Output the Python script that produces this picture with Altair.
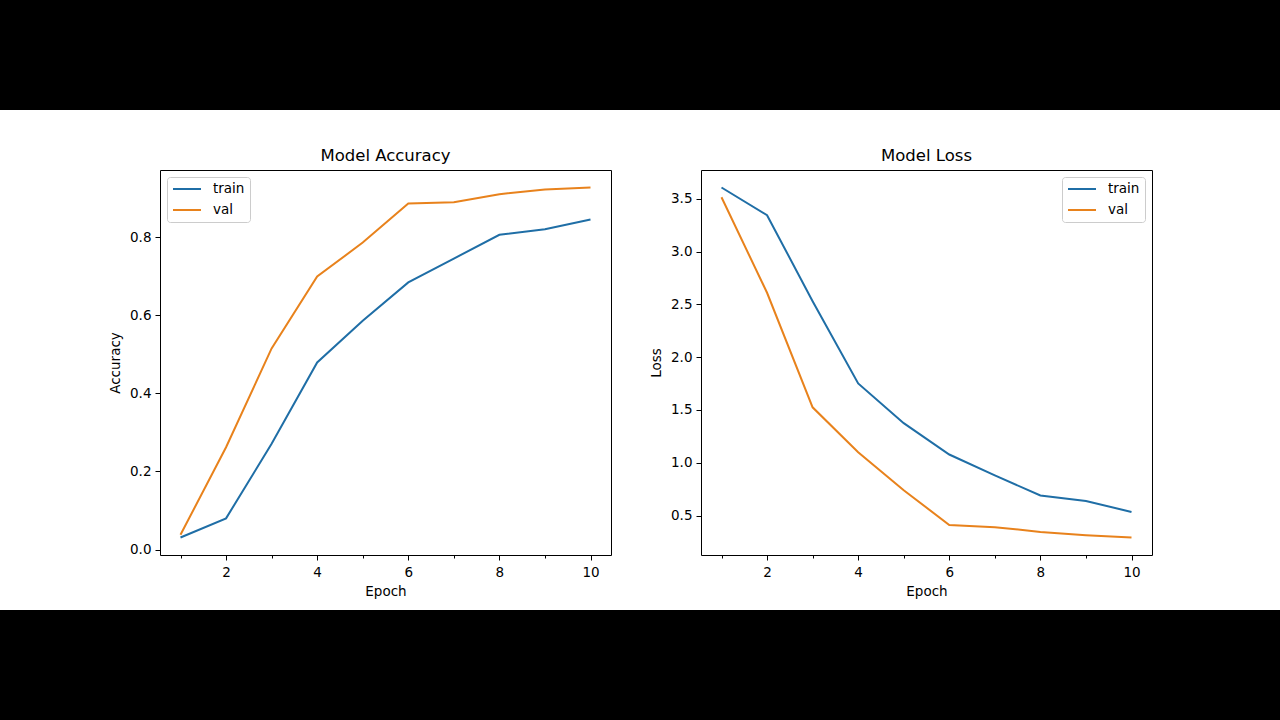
import altair as alt
import pandas as pd

# Training history over 10 epochs
epochs = [1, 2, 3, 4, 5, 6, 7, 8, 9, 10]
acc_train = [0.031, 0.080, 0.271, 0.479, 0.586, 0.684, 0.745, 0.806, 0.820, 0.845]
acc_val = [0.038, 0.262, 0.515, 0.699, 0.786, 0.886, 0.889, 0.910, 0.922, 0.927]
loss_train = [3.607, 3.345, 2.530, 1.751, 1.375, 1.078, 0.880, 0.690, 0.638, 0.534]
loss_val = [3.515, 2.610, 1.525, 1.100, 0.739, 0.411, 0.390, 0.345, 0.314, 0.292]

series_names = ["train", "val"]
series_colors = ["#1f6ea6", "#e8821c"]
FONT = "DejaVu Sans"
PW, PH = 451, 385
GAP = 90
LEFT, TOP = 160, 170          # position of the first plot frame on the page
FIG_W, FIG_H = 1280, 720
WHITE_TOP, WHITE_BOTTOM = 110, 610   # the white figure strip between the black bands
OVER = 40                      # bands run past the page edge


def long_frame(train, val):
    rows = []
    for name, vals in zip(series_names, [train, val]):
        for e, v in zip(epochs, vals):
            rows.append({"epoch": e, "value": v, "series": name})
    return pd.DataFrame(rows)


def padded(vals, frac=0.05):
    lo, hi = min(vals), max(vals)
    m = (hi - lo) * frac
    return [lo - m, hi + m]


def band_layer(x0, x1):
    # black letterbox bands above and below the figure
    base = alt.Chart(alt.Data(values=[{}])).mark_rect(color="black", strokeWidth=0)
    top = base.encode(x=alt.value(x0), x2=alt.value(x1),
                      y=alt.value(-TOP - OVER), y2=alt.value(WHITE_TOP - TOP))
    bottom = base.encode(x=alt.value(x0), x2=alt.value(x1),
                         y=alt.value(WHITE_BOTTOM - TOP), y2=alt.value(FIG_H - TOP + OVER))
    return top + bottom


def panel(train, val, title, ylabel, yticks, legend_orient, bands):
    df = long_frame(train, val)
    xdom = padded(epochs)
    ydom = padded(train + val)
    lines = alt.Chart(df).mark_line(strokeWidth=2, clip=True).encode(
        x=alt.X(
            "epoch:Q",
            scale=alt.Scale(domain=xdom, nice=False, zero=False),
            axis=alt.Axis(
                values=epochs,
                labelExpr="datum.value % 2 === 0 ? format(datum.value, 'd') : ''",
                tickSize={"condition": {"test": "datum.value % 2 === 1", "value": 3}, "value": 5},
                title="Epoch",
                titlePadding=6,
                labelPadding=5,
            ),
        ),
        y=alt.Y(
            "value:Q",
            scale=alt.Scale(domain=ydom, nice=False, zero=False),
            axis=alt.Axis(values=yticks, format=".1f", title=ylabel, titlePadding=7, labelPadding=4),
        ),
        color=alt.Color(
            "series:N",
            scale=alt.Scale(domain=series_names, range=series_colors),
            legend=alt.Legend(
                title=None,
                orient=legend_orient,
                offset=7,
                padding=5,
                fillColor="white",
                strokeColor="#cccccc",
                cornerRadius=3,
                symbolType="stroke",
                symbolSize=784,
                symbolStrokeWidth=2,
                labelFontSize=13.5,
                labelFont=FONT,
                labelOffset=11,
                rowPadding=7,
                clipHeight=14,
            ),
        ),
    )
    # the title sits just above the plot frame, inside the white strip
    return alt.layer(bands, lines).properties(
        width=PW, height=PH,
        title=alt.TitleParams(title, frame="group", offset=-(TOP + OVER - 8) - 15, baseline="alphabetic"),
    )


right_x = LEFT + PW + GAP
seam = LEFT + PW + GAP // 2
acc_panel = panel(acc_train, acc_val, "Model Accuracy", "Accuracy",
                  [0.0, 0.2, 0.4, 0.6, 0.8], "top-left",
                  band_layer(-LEFT - OVER, seam - LEFT + 5))
loss_panel = panel(loss_train, loss_val, "Model Loss", "Loss",
                   [0.5, 1.0, 1.5, 2.0, 2.5, 3.0, 3.5], "top-right",
                   band_layer(seam - right_x - 5, FIG_W - right_x + OVER))

chart = alt.hconcat(acc_panel, loss_panel, spacing=GAP, bounds="flush").properties(
    autosize=alt.AutoSizeParams(type="none"),
    padding={"left": LEFT, "top": TOP, "right": FIG_W - LEFT, "bottom": FIG_H - TOP},
    background="white",
).configure_view(
    stroke="black", strokeWidth=1
).configure_axis(
    domain=False, grid=False, tickColor="black", labelColor="black", titleColor="black",
    labelFont=FONT, titleFont=FONT, labelFontSize=13.5, titleFontSize=13.5,
    titleFontWeight="normal", tickWidth=1,
).configure_title(
    font=FONT, fontSize=16.5, fontWeight="normal", color="black", anchor="middle"
)

chart.save("out.html", embed_options={"renderer": "svg", "actions": False})
